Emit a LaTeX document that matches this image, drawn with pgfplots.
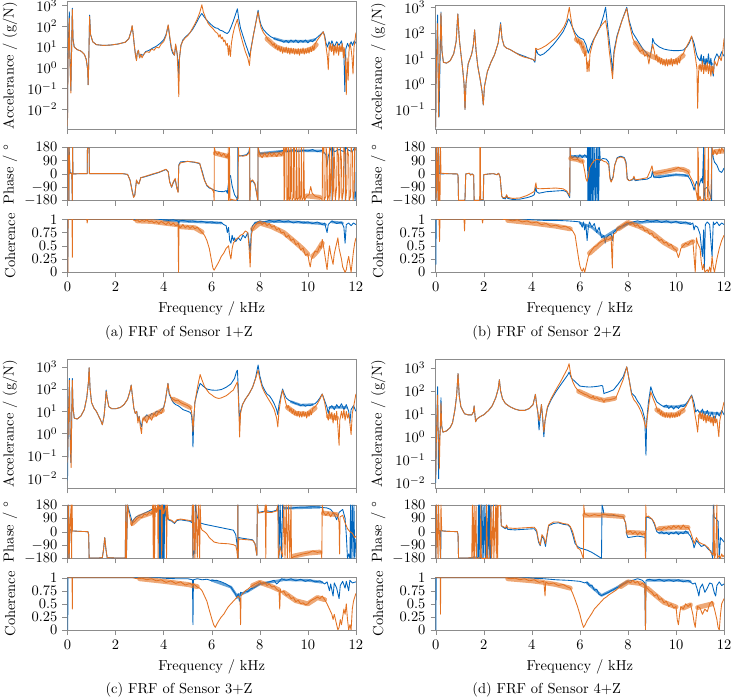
\documentclass[border=0pt]{standalone}
\usepackage{pgfplots}
\pgfplotsset{compat=1.18}
\definecolor{tumblue}{RGB}{0,101,189}
\definecolor{tumorange}{RGB}{227,114,34}

\pgfplotsset{
  frf/.style={scale only axis, width=199pt, xmin=0, xmax=12,
    xtick={0,2,4,6,8,10,12},
    axis line style={black!45}, tick style={black!45},
    tick align=outside, xtick pos=bottom, ytick pos=left,
    major tick length=3.5pt,
    ylabel style={at={(axis description cs:-0.199,0.5)}, anchor=center},
    clip mode=individual},
  hideX/.style={xticklabels={}},
  acc/.style={frf, hideX, ytick={1e-2,1e-1,1,10,100,1000},
    ylabel={Accelerance / (g/N)}},
  pha/.style={frf, hideX, height=36.8pt, ymin=-180, ymax=180,
    ytick={-180,-90,0,90,180}, ylabel={Phase / $^\circ$}},
  coh/.style={frf, ymin=0, ymax=1, ytick={0,0.25,0.5,0.75,1},
    yticklabels={0,0.25,0.5,0.75,1}, ylabel={Coherence},
    xlabel={Frequency / kHz},
    xlabel style={at={(axis description cs:0.5,0)}, anchor=center, yshift=-25.3pt}},
  sb/.style={tumblue, line width=0.6pt, line join=round},
  so/.style={tumorange, line width=0.6pt, line join=round},
  % spread of the noisy stretches of each spectrum
  nb/.style={tumblue, line width=1.8pt, opacity=0.6, line join=round, line cap=round, unbounded coords=jump},
  no/.style={tumorange, line width=3.4pt, opacity=0.62, line join=round, line cap=round, unbounded coords=jump},
}

\begin{document}
\begin{tikzpicture}
\useasboundingbox (0,0) rectangle (504.4pt,-481.6pt);

%% ---------------- (a) Sensor 1+Z ----------------
\begin{axis}[ymode=log, acc, yminorticks=false, at={(46.58pt,-1.17pt)}, anchor=north west, height=87.84pt, ymin=1.1e-3, ymax=1550]
\addplot[nb] coordinates {(8.6,26)(9.0,19)(9.5,19)(10.0,19)(10.3,23)};
\addplot[sb] coordinates {(0,0.003)(0.02,2)(0.05,60)(0.075,500)(0.09,10)(0.12,0.5)(0.14,0.08)(0.16,1.5)(0.2,750)(0.23,25)(0.28,10)(0.4,7.5)(0.55,6.5)(0.7,4.5)(0.78,2.5)(0.84,0.8)(0.86,0.15)(0.88,1.2)(0.92,350)(0.96,40)(1.05,18)(1.2,13)(1.5,12)(1.8,12.5)(2.1,14)(2.4,17)(2.55,25)(2.65,60)(2.69,100)(2.73,45)(2.78,12)(2.83,4)(2.87,2.5)(2.9,5)(2.95,7)(3.0,3)(3.05,4.5)(3.15,4)(3.25,6)(3.4,7)(3.55,9)(3.7,11)(3.85,15)(4.0,22)(4.1,40)(4.19,110)(4.25,30)(4.32,8)(4.38,5)(4.45,4)(4.5,12)(4.56,5)(4.6,2)(4.63,0.45)(4.66,3)(4.72,12)(4.8,22)(4.9,30)(5.0,38)(5.1,50)(5.2,70)(5.3,110)(5.4,180)(5.5,300)(5.59,420)(5.65,330)(5.75,230)(5.85,170)(5.95,130)(6.06,100)(6.15,85)(6.25,80)(6.35,65)(6.45,60)(6.55,50)(6.65,45)(6.72,55)(6.8,90)(6.9,180)(7.0,400)(7.07,700)(7.12,250)(7.2,80)(7.3,35)(7.4,15)(7.5,7)(7.58,3.5)(7.63,8)(7.72,30)(7.82,120)(7.93,600)(7.98,250)(8.05,120)(8.15,70)(8.3,45)(8.45,32)(8.6,26)(8.75,22)(8.9,20)(9.0,17)(9.1,21)(9.2,16)(9.3,22)(9.4,17)(9.5,22)(9.6,16)(9.7,21)(9.8,17)(9.9,22)(10.0,16)(10.1,21)(10.2,18)(10.3,24)(10.4,30)(10.5,38)(10.64,55)(10.7,35)(10.76,15)(10.82,10)(10.88,18)(10.95,12)(11.0,20)(11.1,10)(11.2,18)(11.3,12)(11.4,20)(11.45,9)(11.5,5)(11.54,0.07)(11.58,8)(11.65,15)(11.72,10)(11.8,18)(11.86,12)(11.93,20)(12,15)};
\addplot[no] coordinates {(8.3,25)(8.5,15)(8.7,10)(9.0,7.5)(9.3,6.5)(9.6,6.2)(9.9,6.5)(10.2,8.5)(10.35,13)(10.6,nan)(10.95,9)(11.2,8)(11.45,8)};
\addplot[so] coordinates {(0,0.0015)(0.02,2)(0.05,30)(0.075,250)(0.09,8)(0.12,0.4)(0.14,0.06)(0.16,1.5)(0.2,650)(0.23,22)(0.28,10)(0.4,7.5)(0.55,6.5)(0.7,4.5)(0.78,2.5)(0.84,0.8)(0.86,0.15)(0.88,1.2)(0.92,300)(0.96,40)(1.05,18)(1.2,13)(1.5,12)(1.8,12.5)(2.1,14)(2.4,17)(2.55,25)(2.65,60)(2.69,110)(2.73,45)(2.78,12)(2.83,4)(2.87,2.2)(2.9,5)(2.95,7)(3.0,3)(3.05,4.5)(3.1,3)(3.2,5)(3.3,6)(3.4,5.5)(3.5,8)(3.6,7)(3.7,10)(3.8,9)(3.9,14)(4.0,18)(4.1,35)(4.19,120)(4.25,35)(4.32,10)(4.38,6)(4.45,4)(4.5,14)(4.56,5)(4.6,0.5)(4.63,0.04)(4.66,3)(4.72,12)(4.8,20)(4.9,28)(5.0,35)(5.1,50)(5.2,80)(5.3,130)(5.4,230)(5.5,450)(5.59,1100)(5.65,500)(5.75,250)(5.85,140)(5.95,100)(6.06,75)(6.15,55)(6.25,45)(6.3,30)(6.35,40)(6.4,25)(6.45,30)(6.5,18)(6.55,22)(6.6,12)(6.65,15)(6.7,4)(6.73,12)(6.78,3.5)(6.82,15)(6.88,40)(6.95,90)(7.07,220)(7.12,100)(7.2,40)(7.3,15)(7.4,6)(7.5,3)(7.57,1.3)(7.62,6)(7.72,30)(7.82,120)(7.93,500)(7.98,200)(8.05,90)(8.15,50)(8.25,35)(8.35,22)(8.45,18)(8.55,12)(8.6,15)(8.65,9)(8.7,12)(8.75,7)(8.8,11)(8.85,6)(8.9,10)(8.95,5)(9.0,9)(9.05,5.5)(9.1,10)(9.15,5)(9.2,9)(9.25,4.5)(9.3,9)(9.35,5)(9.4,8.5)(9.45,4.5)(9.5,8)(9.55,4.5)(9.6,8.5)(9.65,4)(9.7,8)(9.75,5)(9.8,9)(9.85,4.5)(9.9,8)(9.95,5)(10.0,9)(10.05,5)(10.1,10)(10.15,6)(10.2,11)(10.25,7)(10.3,14)(10.4,22)(10.5,32)(10.64,55)(10.7,30)(10.76,10)(10.82,3)(10.85,0.8)(10.88,6)(10.93,15)(10.98,6)(11.03,14)(11.08,4)(11.13,12)(11.18,5)(11.23,15)(11.28,4)(11.33,12)(11.38,6)(11.43,15)(11.48,3)(11.52,8)(11.56,2)(11.6,0.05)(11.63,3)(11.66,1)(11.68,0.25)(11.71,6)(11.75,15)(11.8,8)(11.84,3)(11.88,0.5)(11.92,10)(11.96,20)(12,50)};
\end{axis}

\begin{axis}[pha, at={(46.58pt,-101.64pt)}, anchor=north west]
\addplot[nb] coordinates {(8.0,138)(9.0,155)(10.0,157)(10.6,155)};
\addplot[sb] coordinates {(0,-180)(0.005,180)(0.03,20)(0.06,-180)(0.07,180)(0.1,10)(0.18,5)(0.2,-180)(0.21,180)(0.23,0)(0.5,2)(0.82,2)(0.83,175)(0.9,175)(0.91,2)(1.5,2)(2.3,2)(2.5,-3)(2.6,-40)(2.7,-120)(2.75,-155)(2.8,-140)(2.87,-45)(2.92,-60)(2.97,-65)(3.05,-25)(3.2,-20)(3.5,-5)(3.8,10)(4.1,30)(4.19,15)(4.25,-50)(4.33,-90)(4.4,-60)(4.48,-35)(4.55,-95)(4.6,-120)(4.63,60)(4.7,82)(5.0,85)(5.3,78)(5.5,70)(5.6,20)(5.7,-40)(5.8,-80)(5.9,-95)(6.0,-100)(6.1,-110)(6.3,-118)(6.5,-120)(6.6,-112)(6.65,-130)(6.72,-30)(6.78,-10)(6.85,-80)(6.95,-140)(7.05,-165)(7.08,-180)(7.09,180)(7.12,120)(7.3,125)(7.45,130)(7.55,150)(7.58,180)(7.59,-180)(7.6,-60)(7.7,-45)(7.8,-70)(7.88,-140)(7.92,-180)(7.93,180)(8.0,135)(8.2,140)(8.5,145)(8.8,150)(9.0,160)(9.2,150)(9.4,165)(9.6,150)(9.8,160)(10.0,155)(10.2,165)(10.4,150)(10.6,160)(10.75,130)(10.8,60)(10.85,120)(10.95,170)(11.0,180)(11.01,-180)(11.02,180)(11.1,150)(11.3,165)(11.5,150)(11.55,180)(11.56,-180)(11.57,180)(11.7,160)(11.85,150)(11.95,180)(11.96,-180)(12,-120)};
\addplot[no] coordinates {(6.15,140)(6.65,120)(6.8,nan)(8.0,128)(8.5,130)(8.95,135)(9.0,nan)(9.95,-148)(10.5,-158)};
\addplot[so] coordinates {(0,-180)(0.005,180)(0.03,15)(0.06,-180)(0.065,180)(0.1,5)(0.18,3)(0.2,-180)(0.21,180)(0.23,0)(0.5,2)(0.82,2)(0.83,175)(0.9,175)(0.91,2)(1.5,2)(2.3,2)(2.5,-3)(2.6,-40)(2.7,-125)(2.75,-158)(2.8,-145)(2.87,-40)(2.92,-60)(2.97,-68)(3.05,-25)(3.2,-18)(3.5,-2)(3.8,12)(4.1,32)(4.19,15)(4.25,-55)(4.33,-88)(4.4,-55)(4.48,-30)(4.55,-95)(4.6,-125)(4.63,55)(4.7,75)(5.0,85)(5.3,80)(5.5,72)(5.6,10)(5.7,-45)(5.8,-75)(5.9,-90)(6.0,-100)(6.08,-120)(6.1,-180)(6.11,180)(6.15,150)(6.25,130)(6.3,150)(6.4,120)(6.5,140)(6.6,110)(6.65,130)(6.68,100)(6.69,180)(6.7,-180)(6.72,-150)(6.74,180)(6.76,-180)(6.8,-170)(6.9,-175)(7.0,-178)(7.1,-165)(7.11,180)(7.13,125)(7.3,120)(7.45,125)(7.55,140)(7.58,180)(7.59,-180)(7.62,-50)(7.7,-40)(7.8,-65)(7.87,-130)(7.92,-180)(7.93,180)(8.0,130)(8.1,110)(8.2,140)(8.3,115)(8.4,145)(8.5,120)(8.6,140)(8.7,118)(8.8,142)(8.9,125)(8.98,150)(9.0,180)(9.01,-180)(9.04,-160)(9.05,180)(9.1,150)(9.12,180)(9.13,-180)(9.18,-170)(9.19,180)(9.22,160)(9.23,-180)(9.28,-165)(9.29,180)(9.33,150)(9.34,-180)(9.4,-160)(9.41,180)(9.45,170)(9.46,-180)(9.52,-165)(9.53,180)(9.56,-180)(9.62,-160)(9.63,180)(9.67,-180)(9.72,-150)(9.73,180)(9.76,-180)(9.82,-160)(9.83,180)(9.86,-180)(9.95,-150)(10.05,-140)(10.12,-85)(10.18,-130)(10.3,-150)(10.4,-155)(10.5,-160)(10.58,-170)(10.6,-180)(10.61,180)(10.65,140)(10.67,180)(10.68,-180)(10.75,-150)(10.76,180)(10.8,120)(10.82,-180)(10.88,-140)(10.9,180)(10.91,-180)(10.95,-100)(10.98,180)(11.0,100)(11.02,-180)(11.06,-120)(11.08,180)(11.12,60)(11.14,-180)(11.2,-90)(11.22,180)(11.27,130)(11.29,-180)(11.33,-140)(11.35,180)(11.4,90)(11.42,-180)(11.48,-120)(11.5,180)(11.55,150)(11.57,-180)(11.62,-100)(11.64,180)(11.7,120)(11.72,-180)(11.78,-150)(11.8,180)(11.86,140)(11.88,-180)(11.93,-120)(11.95,180)(12,160)};
\end{axis}

\begin{axis}[coh, at={(46.58pt,-151.32pt)}, anchor=north west, height=36.57pt]
\addplot[nb] coordinates {(4.0,0.98)(5.0,0.96)(6.0,0.94)(6.4,0.93)(6.5,nan)(7.8,0.93)(8.5,0.96)(9.5,0.95)(10.5,0.92)(10.75,0.9)(10.9,nan)(11.0,0.95)(11.45,0.93)};
\addplot[sb] coordinates {(0,1)(0.01,0)(0.02,1)(0.5,1)(1,1)(2,1)(3,1)(3.8,1)(4.0,0.99)(4.2,0.98)(4.4,0.99)(4.6,0.97)(4.62,0.85)(4.65,0.97)(4.8,0.98)(5.0,0.96)(5.2,0.97)(5.4,0.95)(5.6,0.96)(5.8,0.94)(6.0,0.95)(6.2,0.93)(6.4,0.94)(6.5,0.9)(6.6,0.88)(6.65,0.75)(6.7,0.85)(6.75,0.6)(6.8,0.55)(6.85,0.7)(6.9,0.6)(6.95,0.65)(7.0,0.58)(7.1,0.65)(7.2,0.6)(7.3,0.7)(7.4,0.65)(7.5,0.75)(7.55,0.6)(7.6,0.35)(7.65,0.8)(7.7,0.88)(7.8,0.93)(8.0,0.97)(8.2,0.95)(8.4,0.98)(8.6,0.95)(8.8,0.98)(9.0,0.95)(9.2,0.97)(9.4,0.93)(9.6,0.96)(9.8,0.93)(10.0,0.95)(10.2,0.92)(10.4,0.95)(10.6,0.9)(10.7,0.93)(10.8,0.75)(10.85,0.9)(11.0,0.97)(11.2,0.92)(11.4,0.95)(11.5,0.85)(11.55,0.55)(11.6,0.9)(11.7,0.93)(11.8,0.88)(11.9,0.93)(12,0.9)};
\addplot[no] coordinates {(2.9,0.97)(3.5,0.96)(4.0,0.93)(4.55,0.9)(4.62,nan)(4.7,0.86)(5.3,0.84)(5.6,0.76)(5.8,nan)(7.7,0.82)(8.0,0.93)(8.5,0.86)(9.0,0.75)(9.5,0.56)(9.8,0.44)(10.0,0.34)(10.1,nan)(10.2,0.3)(10.4,0.4)(10.6,0.55)};
\addplot[so] coordinates {(0,1)(0.015,0)(0.025,1)(0.19,1)(0.2,0.28)(0.21,1)(0.8,1)(0.82,0.93)(0.84,1)(2.7,1)(2.8,0.97)(2.9,0.99)(3.0,0.95)(3.1,0.98)(3.2,0.96)(3.3,0.99)(3.4,0.95)(3.5,0.97)(3.6,0.93)(3.7,0.96)(3.8,0.92)(3.9,0.96)(4.0,0.93)(4.1,0.9)(4.2,0.95)(4.3,0.89)(4.4,0.93)(4.5,0.88)(4.6,0.9)(4.62,0)(4.64,0.88)(4.7,0.84)(4.8,0.9)(4.9,0.84)(5.0,0.88)(5.1,0.83)(5.2,0.87)(5.3,0.82)(5.4,0.85)(5.5,0.8)(5.6,0.75)(5.7,0.7)(5.8,0.6)(5.9,0.45)(6.0,0.2)(6.05,0.08)(6.1,0.04)(6.15,0.08)(6.2,0.12)(6.3,0.2)(6.4,0.3)(6.5,0.36)(6.6,0.45)(6.7,0.5)(6.75,0.35)(6.8,0.25)(6.85,0.45)(6.9,0.55)(7.0,0.62)(7.1,0.65)(7.2,0.7)(7.3,0.72)(7.4,0.78)(7.5,0.75)(7.55,0.5)(7.6,0.1)(7.65,0.7)(7.7,0.8)(7.8,0.88)(7.9,0.93)(8.0,0.95)(8.1,0.9)(8.2,0.94)(8.3,0.88)(8.4,0.92)(8.5,0.85)(8.6,0.88)(8.7,0.8)(8.8,0.83)(8.9,0.74)(9.0,0.76)(9.1,0.66)(9.2,0.7)(9.3,0.6)(9.4,0.63)(9.5,0.52)(9.6,0.55)(9.7,0.42)(9.8,0.46)(9.9,0.32)(10.0,0.35)(10.05,0.2)(10.1,0.1)(10.15,0.25)(10.2,0.3)(10.3,0.4)(10.4,0.38)(10.5,0.5)(10.55,0.45)(10.6,0.62)(10.65,0.5)(10.7,0.35)(10.75,0.2)(10.8,0.05)(10.85,0.3)(10.9,0.5)(10.95,0.35)(11.0,0.25)(11.05,0.15)(11.1,0.35)(11.2,0.55)(11.25,0.65)(11.3,0.45)(11.4,0.25)(11.45,0.1)(11.5,0.05)(11.55,0.0)(11.6,0.05)(11.65,0.2)(11.7,0.3)(11.75,0.15)(11.8,0.0)(11.85,0.2)(11.9,0.4)(11.95,0.55)(12,0.65)};
\end{axis}
\node at (123.5pt,-230pt) {(a) FRF of Sensor 1+Z};

%% ---------------- (b) Sensor 2+Z ----------------
\begin{axis}[ymode=log, acc, yminorticks=false, at={(300.63pt,-3.45pt)}, anchor=north west, height=85.56pt, ymin=0.017, ymax=1230]
\addplot[nb] coordinates {(11.0,9)(11.25,8)(11.5,6)};
\addplot[sb] coordinates {(0,0.02)(0.02,3)(0.05,50)(0.08,500)(0.1,5)(0.12,0.3)(0.14,0.05)(0.17,2)(0.22,650)(0.26,20)(0.32,7)(0.45,6.5)(0.6,8)(0.75,15)(0.85,45)(0.92,550)(0.98,60)(1.05,15)(1.12,4)(1.18,1)(1.22,0.1)(1.26,1)(1.35,6)(1.5,15)(1.57,35)(1.62,130)(1.68,20)(1.75,5)(1.85,1.5)(1.93,0.5)(1.98,0.15)(2.03,0.8)(2.15,3)(2.3,7)(2.45,14)(2.6,40)(2.7,250)(2.76,60)(2.85,30)(2.95,25)(3.1,22)(3.3,17)(3.5,14)(3.7,12)(3.9,10)(4.05,9)(4.13,7)(4.18,22)(4.25,15)(4.35,13)(4.5,15)(4.7,22)(4.9,35)(5.1,60)(5.3,110)(5.45,220)(5.52,350)(5.58,300)(5.65,200)(5.8,100)(5.93,70)(6.05,60)(6.15,55)(6.25,35)(6.35,16)(6.45,30)(6.55,50)(6.7,90)(6.85,180)(6.98,450)(7.07,1000)(7.15,200)(7.22,50)(7.3,12)(7.36,3)(7.42,20)(7.55,80)(7.75,300)(7.95,1000)(8.05,300)(8.2,100)(8.4,50)(8.6,25)(8.8,15)(8.92,11)(9.0,30)(9.03,60)(9.1,40)(9.3,28)(9.5,23)(9.7,21)(9.9,20)(10.1,20)(10.3,21)(10.45,28)(10.55,40)(10.65,70)(10.75,40)(10.85,15)(10.9,11)(11.0,8)(11.05,14)(11.1,5)(11.15,12)(11.2,4)(11.25,10)(11.3,6)(11.35,15)(11.4,5)(11.45,10)(11.5,4)(11.55,2)(11.6,9)(11.7,15)(11.8,10)(11.9,18)(12,12)};
\addplot[no] coordinates {(5.85,55)(6.05,40)(6.2,18)(6.3,nan)(8.3,40)(8.6,18)(9.0,12)(9.2,10)(9.5,7)(10.0,7.5)(10.3,13)(10.6,nan)(11.0,4.5)(11.5,4)};
\addplot[so] coordinates {(0,0.02)(0.02,3)(0.05,20)(0.08,230)(0.1,4)(0.12,0.05)(0.15,1.5)(0.22,600)(0.26,20)(0.32,7)(0.45,6.5)(0.6,8)(0.75,15)(0.85,45)(0.92,550)(0.98,60)(1.05,15)(1.12,4)(1.18,1)(1.22,0.1)(1.26,1)(1.35,6)(1.5,15)(1.57,35)(1.62,130)(1.68,20)(1.75,5)(1.85,1.5)(1.93,0.5)(1.98,0.15)(2.03,0.8)(2.15,3)(2.3,7)(2.45,14)(2.6,40)(2.7,220)(2.76,60)(2.85,30)(2.95,25)(3.1,22)(3.3,17)(3.5,13)(3.7,11)(3.9,10)(4.05,9)(4.13,8)(4.16,25)(4.25,22)(4.4,25)(4.6,32)(4.8,45)(5.0,65)(5.2,110)(5.35,180)(5.45,300)(5.56,1000)(5.62,400)(5.7,150)(5.8,80)(5.9,40)(5.95,55)(6.0,35)(6.05,45)(6.1,25)(6.15,30)(6.2,12)(6.25,20)(6.3,3)(6.34,8)(6.38,3)(6.42,15)(6.5,30)(6.6,60)(6.75,120)(6.9,200)(7.07,300)(7.15,100)(7.22,20)(7.3,5)(7.36,1.6)(7.42,15)(7.55,70)(7.75,300)(7.95,900)(8.05,250)(8.2,60)(8.3,40)(8.4,30)(8.5,18)(8.6,22)(8.7,12)(8.8,15)(8.87,6)(8.92,12)(9.0,25)(9.03,35)(9.1,18)(9.15,9)(9.2,14)(9.25,7)(9.3,11)(9.35,6)(9.4,10)(9.45,5.5)(9.5,9)(9.55,5)(9.6,9.5)(9.65,5)(9.7,9)(9.75,5.5)(9.8,10)(9.85,5)(9.9,9)(9.95,6)(10.0,10)(10.05,5.5)(10.1,10)(10.15,6.5)(10.2,12)(10.3,15)(10.4,25)(10.55,45)(10.65,75)(10.72,35)(10.8,12)(10.87,4)(10.9,0.11)(10.94,3)(11.0,6)(11.05,3)(11.1,8)(11.15,2.5)(11.2,6)(11.25,3)(11.3,7)(11.35,2.5)(11.4,6)(11.45,2)(11.5,5)(11.55,2.5)(11.6,8)(11.7,5)(11.8,12)(11.88,8)(11.95,20)(12,60)};
\end{axis}

\begin{axis}[pha, at={(300.63pt,-101.64pt)}, anchor=north west]
\addplot[nb] coordinates {(5.62,118)(6.0,120)(6.3,118)(6.4,nan)(9.1,-20)(10.0,-5)(10.5,-12)};
\addplot[sb] coordinates {(0,180)(0.01,-180)(0.03,-100)(0.05,180)(0.08,30)(0.1,-180)(0.12,180)(0.15,5)(0.2,0)(0.5,2)(0.9,0)(0.93,-10)(0.95,-178)(1.2,-178)(1.22,-170)(1.25,0)(1.4,5)(1.45,-5)(1.52,0)(1.58,-10)(1.6,-178)(1.8,-178)(1.85,-175)(1.98,-175)(2.0,-5)(2.2,0)(2.4,2)(2.55,-5)(2.62,5)(2.68,-20)(2.75,-150)(2.8,-165)(2.9,-168)(2.95,-150)(3.0,-165)(3.2,-172)(3.5,-170)(3.8,-160)(4.0,-150)(4.1,-140)(4.17,-90)(4.2,-120)(4.3,-130)(4.6,-120)(5.0,-115)(5.3,-112)(5.45,-120)(5.55,-150)(5.58,-160)(5.59,180)(5.62,120)(5.7,110)(5.8,125)(5.9,105)(6.0,130)(6.1,110)(6.2,130)(6.3,110)(6.32,180)(6.33,-180)(6.36,180)(6.38,-180)(6.4,180)(6.42,-180)(6.44,180)(6.46,-180)(6.5,180)(6.52,-180)(6.55,180)(6.58,-180)(6.62,180)(6.65,-180)(6.7,180)(6.72,-180)(6.76,180)(6.78,-180)(6.82,180)(6.85,90)(6.95,105)(7.1,100)(7.2,80)(7.25,-20)(7.3,-50)(7.38,-20)(7.45,60)(7.55,110)(7.7,120)(7.85,110)(7.92,80)(7.97,-30)(8.05,-45)(8.2,-40)(8.25,-25)(8.3,-45)(8.5,-40)(8.8,-35)(8.97,-20)(9.02,20)(9.07,-20)(9.3,-25)(9.6,-15)(10.0,-5)(10.3,-5)(10.5,-15)(10.6,-40)(10.7,-80)(10.75,-110)(10.85,-50)(10.95,-85)(11.05,-30)(11.1,-60)(11.15,180)(11.16,-180)(11.2,-100)(11.3,-90)(11.4,-130)(11.48,-180)(11.49,180)(11.55,110)(11.6,80)(11.7,60)(11.8,20)(11.9,10)(12,40)};
\addplot[no] coordinates {(5.62,105)(5.9,98)(6.1,85)(6.2,nan)(9.15,5)(9.6,18)(10.0,33)(10.3,30)(10.5,15)(10.6,nan)(11.6,150)(12,155)};
\addplot[so] coordinates {(0,180)(0.01,-180)(0.03,-120)(0.05,180)(0.08,20)(0.1,-180)(0.12,180)(0.14,-180)(0.18,-180)(0.2,180)(0.22,5)(0.5,2)(0.9,0)(0.93,-10)(0.95,-178)(1.2,-178)(1.22,-170)(1.25,0)(1.4,5)(1.45,-8)(1.52,0)(1.58,-10)(1.6,-178)(1.8,-178)(1.83,-175)(1.84,180)(1.86,180)(1.87,-175)(1.98,-172)(2.0,-5)(2.2,0)(2.4,2)(2.55,-5)(2.62,5)(2.68,-20)(2.75,-150)(2.8,-160)(2.9,-160)(2.95,-140)(3.0,-158)(3.2,-165)(3.5,-162)(3.8,-145)(4.0,-128)(4.1,-118)(4.17,-60)(4.2,-95)(4.3,-100)(4.6,-98)(5.0,-95)(5.3,-100)(5.45,-115)(5.55,-140)(5.58,-150)(5.59,180)(5.62,110)(5.7,100)(5.8,95)(5.9,100)(6.0,85)(6.1,90)(6.15,60)(6.2,20)(6.25,-30)(6.3,-50)(6.35,-20)(6.4,40)(6.5,70)(6.6,90)(6.7,100)(6.8,95)(6.9,95)(7.0,85)(7.1,80)(7.2,60)(7.25,-30)(7.3,-55)(7.38,-25)(7.45,60)(7.55,105)(7.7,115)(7.85,105)(7.92,70)(7.97,-35)(8.05,-45)(8.2,-35)(8.25,-15)(8.3,-40)(8.5,-35)(8.8,-25)(8.95,30)(9.0,55)(9.05,10)(9.2,5)(9.4,10)(9.6,20)(9.8,25)(10.0,35)(10.1,45)(10.2,35)(10.4,25)(10.5,15)(10.6,-20)(10.7,-50)(10.8,-90)(10.85,-130)(10.9,-180)(10.91,180)(10.93,100)(10.95,-180)(11.0,-150)(11.05,-180)(11.15,-170)(11.2,180)(11.22,-180)(11.3,-170)(11.35,180)(11.37,-180)(11.45,-160)(11.5,180)(11.55,130)(11.6,160)(11.7,130)(11.8,170)(11.85,140)(11.9,175)(12,150)};
\end{axis}

\begin{axis}[coh, at={(300.63pt,-151.32pt)}, anchor=north west, height=36.57pt]
\addplot[nb] coordinates {(6.0,0.93)(6.5,0.85)(7.0,0.66)(7.5,0.8)(8.0,0.92)(9.0,0.96)(10.0,0.95)(10.6,0.92)};
\addplot[sb] coordinates {(0,1)(0.01,0.15)(0.02,1)(1,1)(2,1)(3,1)(3.8,1)(4.0,0.99)(4.5,0.98)(5.0,0.98)(5.5,0.97)(5.8,0.96)(6.0,0.95)(6.1,0.85)(6.15,0.95)(6.2,0.8)(6.25,0.9)(6.3,0.6)(6.35,0.85)(6.4,0.95)(6.5,0.85)(6.6,0.92)(6.7,0.75)(6.8,0.85)(6.9,0.65)(7.0,0.7)(7.05,0.55)(7.1,0.65)(7.2,0.7)(7.3,0.72)(7.35,0.6)(7.4,0.75)(7.5,0.8)(7.6,0.85)(7.8,0.88)(8.0,0.92)(8.2,0.95)(8.4,0.97)(8.6,0.95)(8.8,0.98)(9.0,0.95)(9.2,0.98)(9.4,0.94)(9.6,0.97)(9.8,0.93)(10.0,0.96)(10.2,0.92)(10.4,0.95)(10.6,0.9)(10.7,0.93)(10.75,0.8)(10.8,0.88)(10.9,0.85)(11.0,0.72)(11.05,0.5)(11.1,0.3)(11.15,0.8)(11.18,0.05)(11.22,0.9)(11.3,0.95)(11.4,0.9)(11.45,0.6)(11.5,0.3)(11.55,0.95)(11.6,0.9)(11.7,0.95)(11.8,0.88)(11.9,0.93)(12,0.9)};
\addplot[no] coordinates {(3.0,0.98)(4.0,0.93)(5.0,0.87)(5.6,0.82)(5.8,nan)(6.4,0.36)(7.0,0.6)(7.3,0.65)(7.4,nan)(7.6,0.82)(8.0,0.94)(8.5,0.86)(9.0,0.74)(9.5,0.56)(10.0,0.43)(10.1,nan)(10.3,0.5)(10.7,0.58)};
\addplot[so] coordinates {(0,1)(0.14,1)(0.16,0.58)(0.18,1)(1.18,1)(1.2,0.78)(1.22,1)(1.93,1)(1.95,0.93)(1.97,1)(2.8,1)(3.0,0.99)(3.2,0.97)(3.4,0.99)(3.6,0.95)(3.8,0.97)(4.0,0.93)(4.2,0.95)(4.4,0.9)(4.6,0.92)(4.8,0.87)(5.0,0.89)(5.2,0.85)(5.4,0.87)(5.6,0.82)(5.7,0.78)(5.8,0.7)(5.85,0.55)(5.9,0.4)(5.95,0.25)(6.0,0.12)(6.05,0.05)(6.1,0.02)(6.15,0.08)(6.2,0.0)(6.25,0.1)(6.3,0.2)(6.35,0.3)(6.4,0.35)(6.5,0.42)(6.6,0.48)(6.7,0.5)(6.8,0.55)(6.9,0.58)(7.0,0.6)(7.1,0.63)(7.2,0.62)(7.3,0.66)(7.33,0.3)(7.35,0.08)(7.37,0.5)(7.4,0.72)(7.5,0.75)(7.6,0.82)(7.7,0.85)(7.8,0.9)(7.9,0.93)(8.0,0.95)(8.1,0.9)(8.2,0.93)(8.3,0.87)(8.4,0.9)(8.5,0.84)(8.6,0.86)(8.7,0.78)(8.8,0.8)(8.9,0.72)(9.0,0.74)(9.1,0.65)(9.2,0.67)(9.3,0.6)(9.4,0.62)(9.5,0.55)(9.6,0.57)(9.7,0.5)(9.8,0.53)(9.9,0.45)(10.0,0.42)(10.05,0.35)(10.1,0.28)(10.15,0.35)(10.2,0.45)(10.3,0.5)(10.4,0.55)(10.5,0.52)(10.6,0.58)(10.7,0.6)(10.75,0.3)(10.8,0.0)(10.85,0.65)(10.9,0.55)(11.0,0.45)(11.05,0.2)(11.1,0.05)(11.15,0.15)(11.2,0.0)(11.3,0.05)(11.35,0.0)(11.4,0.1)(11.45,0.0)(11.5,0.3)(11.55,0.1)(11.6,0.0)(11.7,0.25)(11.8,0.45)(11.9,0.6)(12,0.7)};
\end{axis}
\node at (377.2pt,-230pt) {(b) FRF of Sensor 2+Z};

%% ---------------- (c) Sensor 3+Z ----------------
\begin{axis}[ymode=log, acc, yminorticks=false, at={(46.58pt,-247.71pt)}, anchor=north west, height=89.22pt, ymin=3.5e-3, ymax=2240]
\addplot[nb] coordinates {(9.3,27)(9.7,19)(10.2,20)(10.35,nan)(10.9,15)(11.6,15)};
\addplot[sb] coordinates {(0,0.008)(0.03,2)(0.06,50)(0.08,300)(0.1,4)(0.12,0.2)(0.14,0.05)(0.17,2)(0.2,300)(0.23,15)(0.28,5)(0.4,4.5)(0.55,6)(0.7,12)(0.8,40)(0.87,200)(0.9,900)(0.94,100)(1.0,25)(1.1,14)(1.2,10)(1.3,6)(1.38,4)(1.45,2.5)(1.52,6)(1.58,30)(1.61,90)(1.65,40)(1.72,16)(1.85,13)(2.0,13)(2.2,15)(2.35,20)(2.5,35)(2.6,80)(2.65,150)(2.7,50)(2.76,14)(2.82,8)(2.88,10)(2.93,4)(2.98,6)(3.03,3)(3.08,2)(3.12,4)(3.2,5)(3.3,7)(3.4,5.5)(3.5,8)(3.6,7)(3.7,10)(3.8,9)(3.9,12)(4.0,15)(4.07,30)(4.13,80)(4.18,180)(4.23,60)(4.3,40)(4.4,25)(4.5,20)(4.6,18)(4.7,15)(4.8,12)(4.9,11)(5.0,10)(5.1,9)(5.16,7)(5.2,2)(5.22,0.25)(5.25,3)(5.3,25)(5.38,60)(5.45,110)(5.52,180)(5.6,150)(5.7,120)(5.8,100)(5.9,95)(6.0,90)(6.2,88)(6.4,95)(6.6,120)(6.8,170)(6.95,300)(7.03,600)(7.07,700)(7.1,150)(7.14,10)(7.17,3)(7.2,10)(7.28,20)(7.4,35)(7.55,60)(7.7,120)(7.82,300)(7.93,1200)(8.0,400)(8.1,150)(8.2,90)(8.3,60)(8.4,50)(8.5,35)(8.6,22)(8.7,12)(8.75,7)(8.8,20)(8.88,50)(8.95,100)(9.02,60)(9.1,40)(9.2,32)(9.3,28)(9.4,25)(9.5,22)(9.6,21)(9.7,18)(9.8,20)(9.9,17)(10.0,19)(10.1,18)(10.2,21)(10.3,22)(10.4,28)(10.5,40)(10.6,60)(10.7,30)(10.8,15)(10.85,8)(10.9,14)(11.0,18)(11.1,12)(11.2,20)(11.3,14)(11.4,22)(11.5,12)(11.6,20)(11.7,10)(11.75,3)(11.8,12)(11.9,18)(12,10)};
\addplot[no] coordinates {(3.2,4.5)(3.6,7)(3.95,11)(4.05,nan)(4.4,35)(4.8,22)(5.1,15)(5.2,nan)(9.15,15)(9.5,8)(10.0,7.5)(10.3,14)(10.6,nan)(10.85,6)(11.2,5)};
\addplot[so] coordinates {(0,0.05)(0.03,2)(0.06,40)(0.08,250)(0.1,4)(0.12,0.3)(0.15,0.03)(0.17,2)(0.2,250)(0.23,15)(0.28,5)(0.4,4.5)(0.55,6)(0.7,12)(0.8,40)(0.87,200)(0.9,900)(0.94,100)(1.0,25)(1.1,14)(1.2,10)(1.3,6)(1.38,4)(1.45,2.5)(1.52,6)(1.58,30)(1.61,80)(1.65,40)(1.72,16)(1.85,13)(2.0,13)(2.2,15)(2.35,20)(2.5,35)(2.6,80)(2.65,150)(2.7,50)(2.76,14)(2.82,8)(2.88,10)(2.93,3)(2.98,6)(3.03,2)(3.08,1)(3.12,4)(3.2,5)(3.3,3)(3.4,6)(3.5,4)(3.6,8)(3.7,6)(3.8,10)(3.9,8)(4.0,14)(4.07,30)(4.13,80)(4.18,180)(4.23,70)(4.3,45)(4.4,35)(4.5,30)(4.6,32)(4.7,25)(4.8,22)(4.9,20)(5.0,18)(5.1,15)(5.16,10)(5.2,4)(5.22,1.2)(5.25,4)(5.3,25)(5.38,80)(5.45,200)(5.52,450)(5.6,250)(5.7,130)(5.8,90)(5.9,65)(6.0,55)(6.1,45)(6.2,40)(6.3,38)(6.4,40)(6.5,45)(6.6,50)(6.7,60)(6.8,75)(6.9,90)(7.0,150)(7.07,210)(7.1,80)(7.14,5)(7.16,0.7)(7.2,8)(7.28,20)(7.4,35)(7.55,60)(7.7,120)(7.82,280)(7.93,700)(8.0,300)(8.1,120)(8.2,70)(8.3,45)(8.4,30)(8.5,20)(8.6,12)(8.7,5)(8.75,2)(8.8,10)(8.88,40)(8.95,90)(9.02,45)(9.1,20)(9.15,14)(9.2,18)(9.25,10)(9.3,14)(9.35,8)(9.4,12)(9.45,7)(9.5,10)(9.55,6)(9.6,10)(9.65,5.5)(9.7,9)(9.75,5.5)(9.8,10)(9.85,6)(9.9,9)(9.95,5)(10.0,10)(10.05,6)(10.1,11)(10.15,7)(10.2,13)(10.3,16)(10.4,22)(10.5,35)(10.6,60)(10.7,25)(10.78,8)(10.85,4)(10.9,10)(10.95,5)(11.0,9)(11.05,3)(11.1,8)(11.15,4)(11.2,10)(11.25,2)(11.3,0.3)(11.33,4)(11.4,10)(11.45,5)(11.5,12)(11.55,4)(11.6,10)(11.65,5)(11.7,8)(11.75,3)(11.8,0.9)(11.85,8)(11.9,15)(11.95,30)(12,60)};
\end{axis}

\begin{axis}[pha, at={(46.58pt,-348.45pt)}, anchor=north west]
\addplot[nb] coordinates {(9.0,158)(10.5,165)};
\addplot[sb] coordinates {(0,180)(0.01,-180)(0.03,20)(0.05,180)(0.07,-180)(0.1,15)(0.2,5)(0.5,2)(0.85,0)(0.88,-20)(0.9,-178)(1.3,-178)(1.45,-175)(1.5,-120)(1.55,-40)(1.6,-120)(1.65,-175)(2.0,-178)(2.4,-178)(2.43,180)(2.45,-180)(2.5,180)(2.55,150)(2.6,120)(2.65,90)(2.7,60)(2.75,80)(2.85,100)(3.0,110)(3.2,125)(3.4,140)(3.5,150)(3.6,130)(3.7,145)(3.8,180)(3.82,-180)(3.85,180)(3.87,-180)(3.9,180)(3.92,-180)(3.95,180)(3.97,-180)(4.0,180)(4.02,-180)(4.05,180)(4.1,100)(4.2,80)(4.35,70)(4.45,55)(4.55,75)(4.7,80)(4.9,75)(5.1,70)(5.18,60)(5.2,180)(5.22,-180)(5.25,-130)(5.3,-150)(5.32,180)(5.4,100)(5.5,60)(5.7,50)(6.0,40)(6.3,30)(6.6,20)(6.9,10)(7.0,-20)(7.05,-80)(7.08,-180)(7.09,180)(7.1,-180)(7.12,-40)(7.3,-45)(7.5,-50)(7.7,-55)(7.8,-80)(7.88,-160)(7.9,180)(7.95,130)(8.1,135)(8.3,140)(8.5,135)(8.7,145)(8.78,180)(8.8,-180)(8.85,180)(8.9,-180)(8.95,180)(9.0,160)(9.3,158)(9.6,165)(9.9,165)(10.2,168)(10.5,165)(10.8,160)(10.95,150)(11.05,130)(11.15,100)(11.2,80)(11.3,130)(11.45,150)(11.55,90)(11.6,-20)(11.65,-180)(11.7,-150)(11.75,-180)(11.78,180)(11.8,-180)(11.85,180)(11.88,-180)(11.92,180)(11.95,-180)(12,-50)};
\addplot[no] coordinates {(2.7,55)(3.0,100)(3.45,125)(3.5,nan)(9.4,-165)(10.0,-145)(10.5,-138)(10.6,nan)(10.65,125)(11.2,115)};
\addplot[so] coordinates {(0,180)(0.01,-180)(0.03,20)(0.05,180)(0.07,-180)(0.1,15)(0.15,180)(0.17,-180)(0.19,180)(0.21,5)(0.5,2)(0.85,0)(0.88,-20)(0.9,-178)(1.3,-178)(1.45,-175)(1.5,-120)(1.55,-40)(1.6,-120)(1.65,-175)(2.0,-178)(2.4,-178)(2.43,180)(2.45,-180)(2.5,180)(2.55,130)(2.62,80)(2.67,40)(2.72,60)(2.8,70)(2.9,90)(3.0,100)(3.1,95)(3.2,120)(3.3,110)(3.4,130)(3.5,120)(3.55,180)(3.57,-180)(3.6,180)(3.62,-180)(3.65,180)(3.7,130)(3.75,180)(3.77,-180)(3.8,180)(3.85,150)(3.9,180)(3.92,-180)(3.95,180)(4.0,120)(4.1,180)(4.12,-180)(4.15,180)(4.2,85)(4.35,75)(4.45,60)(4.55,80)(4.7,85)(4.9,80)(5.1,75)(5.18,70)(5.2,180)(5.22,-180)(5.25,180)(5.3,-180)(5.35,180)(5.4,-180)(5.45,180)(5.5,-180)(5.52,180)(5.55,30)(5.6,10)(5.7,0)(5.8,-15)(5.9,-40)(6.0,-55)(6.1,-70)(6.3,-78)(6.5,-80)(6.7,-82)(6.9,-88)(7.0,-95)(7.05,-130)(7.08,-180)(7.09,180)(7.1,-180)(7.12,-50)(7.3,-52)(7.5,-55)(7.7,-58)(7.8,-80)(7.88,-160)(7.9,180)(7.95,125)(8.1,130)(8.2,135)(8.23,180)(8.25,-180)(8.27,180)(8.3,130)(8.5,130)(8.7,140)(8.75,180)(8.77,-180)(8.8,-150)(8.85,-100)(8.9,-140)(8.95,-170)(9.0,180)(9.05,-180)(9.1,180)(9.15,-180)(9.2,180)(9.25,-180)(9.3,180)(9.32,-180)(9.4,-170)(9.6,-160)(9.8,-150)(10.0,-145)(10.2,-130)(10.4,-140)(10.55,-135)(10.58,-180)(10.6,180)(10.65,130)(10.75,110)(10.85,130)(10.95,100)(11.05,130)(11.15,120)(11.25,110)(11.3,60)(11.32,-150)(11.34,100)(11.45,110)(11.55,60)(11.65,20)(11.75,0)(11.85,-10)(11.95,-40)(12,-30)};
\end{axis}

\begin{axis}[coh, at={(46.58pt,-398.61pt)}, anchor=north west, height=36.09pt]
\addplot[nb] coordinates {(6.0,0.95)(6.8,0.82)(7.05,0.65)(7.5,0.74)(8.0,0.88)(9.0,0.96)(10.0,0.95)(10.6,0.91)};
\addplot[sb] coordinates {(0,1)(0.01,0)(0.02,1)(1,1)(2,1)(3,1)(3.8,1)(4.0,0.99)(4.5,0.98)(5.0,0.98)(5.2,0.96)(5.22,0.1)(5.24,0.96)(5.4,0.98)(5.6,0.96)(5.8,0.97)(6.0,0.94)(6.2,0.95)(6.4,0.92)(6.6,0.88)(6.8,0.82)(6.9,0.75)(7.0,0.68)(7.05,0.6)(7.1,0.7)(7.15,0.55)(7.2,0.72)(7.3,0.7)(7.4,0.75)(7.5,0.73)(7.6,0.78)(7.8,0.82)(8.0,0.88)(8.2,0.9)(8.4,0.92)(8.6,0.95)(8.7,0.88)(8.8,0.92)(8.9,0.98)(9.1,0.95)(9.3,0.98)(9.5,0.94)(9.7,0.97)(9.9,0.93)(10.1,0.96)(10.3,0.92)(10.5,0.94)(10.7,0.88)(10.8,0.92)(10.9,0.75)(10.95,0.88)(11.05,0.65)(11.1,0.9)(11.2,0.8)(11.3,0.6)(11.35,0.85)(11.45,0.93)(11.55,0.8)(11.6,0.93)(11.7,0.75)(11.75,0.95)(11.85,0.9)(12,0.92)};
\addplot[no] coordinates {(3.0,0.98)(4.0,0.93)(5.0,0.87)(5.4,0.83)(5.6,nan)(7.7,0.85)(8.0,0.91)(8.5,0.83)(8.78,0.77)(8.88,nan)(9.0,0.72)(9.5,0.56)(10.0,0.5)(10.4,0.62)(10.7,0.58)};
\addplot[so] coordinates {(0,1)(0.19,1)(0.2,0.4)(0.21,1)(2.7,1)(2.9,0.98)(3.1,0.99)(3.3,0.96)(3.5,0.98)(3.7,0.94)(3.9,0.96)(4.1,0.91)(4.3,0.94)(4.5,0.89)(4.7,0.92)(4.9,0.86)(5.1,0.89)(5.2,0.85)(5.25,0.88)(5.3,0.86)(5.4,0.82)(5.5,0.8)(5.6,0.75)(5.7,0.65)(5.8,0.55)(5.9,0.38)(6.0,0.22)(6.08,0.1)(6.15,0.05)(6.2,0.1)(6.3,0.18)(6.4,0.25)(6.5,0.3)(6.6,0.38)(6.7,0.45)(6.8,0.5)(6.9,0.55)(7.0,0.6)(7.1,0.65)(7.18,0.6)(7.2,0.1)(7.22,0.65)(7.3,0.7)(7.4,0.75)(7.5,0.78)(7.6,0.82)(7.7,0.85)(7.8,0.88)(7.9,0.9)(8.0,0.93)(8.1,0.88)(8.2,0.91)(8.3,0.85)(8.4,0.88)(8.5,0.82)(8.6,0.84)(8.7,0.78)(8.8,0.75)(8.83,0.4)(8.86,0.78)(8.9,0.72)(9.0,0.74)(9.1,0.66)(9.2,0.68)(9.3,0.6)(9.4,0.62)(9.5,0.54)(9.6,0.57)(9.7,0.5)(9.8,0.52)(9.9,0.48)(10.0,0.5)(10.1,0.55)(10.2,0.58)(10.3,0.6)(10.4,0.63)(10.5,0.6)(10.6,0.65)(10.7,0.58)(10.8,0.5)(10.9,0.4)(11.0,0.3)(11.05,0.2)(11.1,0.3)(11.2,0.1)(11.25,0.0)(11.3,0.05)(11.35,0.2)(11.4,0.1)(11.5,0.4)(11.55,0.3)(11.6,0.5)(11.65,0.2)(11.7,0.0)(11.75,0.1)(11.8,0.0)(11.85,0.4)(11.9,0.55)(12,0.7)};
\end{axis}
\node at (123.5pt,-476.1pt) {(c) FRF of Sensor 3+Z};

%% ---------------- (d) Sensor 4+Z ----------------
\begin{axis}[ymode=log, acc, yminorticks=false, at={(300.63pt,-247.71pt)}, anchor=north west, height=89.22pt, ymin=5.8e-3, ymax=2400]
\addplot[nb] coordinates {(9.5,21)(10.0,20)(10.4,24)(10.5,nan)(11.0,12)(11.8,10)};
\addplot[sb] coordinates {(0,0.01)(0.03,1)(0.06,20)(0.08,150)(0.1,2)(0.12,0.015)(0.15,0.5)(0.2,3)(0.22,50)(0.25,3)(0.3,1.6)(0.45,1.8)(0.6,2.5)(0.7,4)(0.8,15)(0.87,60)(0.93,560)(0.98,60)(1.05,20)(1.2,10)(1.35,9)(1.5,9)(1.57,12)(1.6,22)(1.63,10)(1.66,4.5)(1.72,6)(1.85,7.5)(2.0,9)(2.2,14)(2.35,22)(2.5,50)(2.6,120)(2.65,300)(2.7,100)(2.78,45)(2.9,28)(3.1,20)(3.3,16)(3.5,14)(3.7,14)(3.9,17)(4.05,25)(4.15,70)(4.2,25)(4.25,12)(4.3,2)(4.35,8)(4.4,25)(4.45,7)(4.5,1)(4.55,5)(4.65,18)(4.8,40)(5.0,90)(5.2,180)(5.35,300)(5.5,500)(5.55,650)(5.65,350)(5.8,250)(5.9,200)(6.0,160)(6.2,150)(6.4,145)(6.6,150)(6.8,160)(6.9,170)(6.95,160)(7.0,75)(7.05,80)(7.2,90)(7.4,110)(7.6,200)(7.8,400)(7.95,1100)(8.05,300)(8.15,80)(8.3,55)(8.4,35)(8.5,25)(8.6,15)(8.7,6)(8.75,0.16)(8.78,5)(8.85,30)(8.95,150)(9.05,70)(9.2,33)(9.35,25)(9.5,20)(9.6,24)(9.7,17)(9.8,22)(9.9,16)(10.0,22)(10.1,17)(10.2,23)(10.3,20)(10.4,26)(10.5,35)(10.65,65)(10.75,30)(10.82,12)(10.9,15)(11.0,10)(11.1,16)(11.2,8)(11.3,14)(11.4,7)(11.5,12)(11.6,5)(11.7,12)(11.8,8)(11.9,14)(12,9)};
\addplot[no] coordinates {(5.95,95)(6.5,52)(7.0,38)(7.45,47)(7.55,nan)(9.2,15)(9.5,9)(10.0,9)(10.3,14)(10.5,nan)(11.0,8)(11.6,5)};
\addplot[so] coordinates {(0,0.015)(0.03,1)(0.06,15)(0.08,65)(0.1,2)(0.13,0.5)(0.15,0.04)(0.18,1)(0.22,30)(0.25,3)(0.3,1.6)(0.45,1.8)(0.6,2.5)(0.7,4)(0.8,15)(0.87,60)(0.93,560)(0.98,60)(1.05,20)(1.2,10)(1.35,9)(1.5,9)(1.57,12)(1.6,22)(1.63,10)(1.66,4.5)(1.72,6)(1.85,7.5)(2.0,9)(2.2,14)(2.35,22)(2.5,50)(2.6,120)(2.65,300)(2.7,100)(2.78,45)(2.9,28)(3.1,20)(3.3,16)(3.5,14)(3.7,14)(3.9,17)(4.05,25)(4.15,70)(4.2,25)(4.25,12)(4.3,5)(4.35,10)(4.4,25)(4.45,7)(4.5,1.6)(4.55,5)(4.65,20)(4.8,45)(5.0,110)(5.2,250)(5.35,500)(5.48,900)(5.55,1500)(5.62,500)(5.7,250)(5.8,150)(5.9,110)(6.0,90)(6.1,80)(6.2,70)(6.3,65)(6.4,55)(6.5,50)(6.55,60)(6.6,45)(6.7,50)(6.8,42)(6.9,45)(7.0,33)(7.05,40)(7.2,40)(7.4,45)(7.5,50)(7.6,90)(7.8,300)(7.95,1100)(8.05,300)(8.15,70)(8.25,40)(8.35,30)(8.45,20)(8.55,12)(8.65,6)(8.72,3)(8.75,2.3)(8.8,6)(8.87,25)(8.95,90)(9.05,45)(9.15,25)(9.2,17)(9.25,12)(9.3,16)(9.35,9)(9.4,13)(9.45,8)(9.5,11)(9.55,7)(9.6,11)(9.65,7)(9.7,10)(9.75,6.5)(9.8,11)(9.85,7)(9.9,10)(9.95,7)(10.0,11)(10.05,7.5)(10.1,12)(10.15,8)(10.2,13)(10.3,15)(10.4,20)(10.55,40)(10.65,60)(10.72,25)(10.8,8)(10.85,4)(10.9,1.6)(10.95,8)(11.0,12)(11.05,6)(11.1,11)(11.15,5)(11.2,10)(11.25,4)(11.3,9)(11.35,5)(11.4,8)(11.45,4)(11.5,7)(11.55,3)(11.6,8)(11.65,4)(11.7,6)(11.75,2)(11.78,1)(11.82,5)(11.9,12)(12,33)};
\end{axis}

\begin{axis}[pha, at={(300.63pt,-348.45pt)}, anchor=north west]
\addplot[nb] coordinates {(9.3,-8)(10.0,-8)(10.5,-5)};
\addplot[sb] coordinates {(0,180)(0.01,-180)(0.04,180)(0.06,0)(0.1,10)(0.18,5)(0.2,-180)(0.21,-180)(0.22,10)(0.3,5)(0.5,2)(0.9,0)(0.93,-20)(0.95,-178)(1.3,-178)(1.55,-176)(1.58,-170)(1.75,-175)(1.78,180)(1.8,-180)(1.83,180)(1.86,-180)(1.9,180)(1.93,-180)(1.97,180)(2.0,-180)(2.05,180)(2.08,-180)(2.12,180)(2.15,-180)(2.2,180)(2.22,-180)(2.25,180)(2.28,-180)(2.3,175)(2.5,178)(2.7,175)(2.73,40)(2.8,30)(2.9,20)(2.95,30)(3.0,15)(3.3,12)(3.6,15)(3.9,18)(4.1,20)(4.2,0)(4.28,-70)(4.35,-95)(4.42,-30)(4.5,-50)(4.57,-100)(4.6,-60)(4.7,40)(4.9,55)(5.1,60)(5.3,50)(5.5,45)(5.6,30)(5.7,-20)(5.8,-80)(5.9,-100)(6.0,-110)(6.1,-115)(6.3,-125)(6.5,-140)(6.7,-160)(6.85,-175)(6.9,-180)(6.92,180)(6.97,150)(7.0,115)(7.2,112)(7.4,110)(7.6,105)(7.8,100)(7.9,60)(7.95,-20)(8.0,-40)(8.2,-35)(8.4,-30)(8.6,-35)(8.72,-40)(8.74,-180)(8.76,100)(8.85,95)(9.0,85)(9.1,50)(9.2,0)(9.3,-10)(9.4,0)(9.5,-15)(9.6,-5)(9.7,-20)(9.8,-5)(9.9,-15)(10.0,0)(10.1,-20)(10.2,-5)(10.3,-15)(10.4,5)(10.5,-10)(10.6,-30)(10.7,-70)(10.75,-110)(10.85,-60)(10.95,-80)(11.05,-100)(11.2,-90)(11.35,-120)(11.45,-130)(11.5,-160)(11.53,-180)(11.55,180)(11.58,100)(11.65,90)(11.75,70)(11.8,-180)(11.85,-40)(11.95,-60)(12,-70)};
\addplot[no] coordinates {(6.2,112)(7.0,112)(7.8,102)(7.9,nan)(8.0,-5)(8.65,-10)(8.7,nan)(9.3,20)(10.0,30)(10.5,28)};
\addplot[so] coordinates {(0,180)(0.01,-180)(0.04,180)(0.06,0)(0.1,-180)(0.12,180)(0.15,5)(0.2,-180)(0.22,180)(0.25,5)(0.5,2)(0.9,0)(0.93,-20)(0.95,-178)(1.3,-178)(1.5,-176)(1.53,180)(1.56,-180)(1.6,175)(1.62,-180)(1.68,170)(1.7,-180)(1.85,-175)(1.88,180)(1.9,-180)(2.1,-180)(2.12,180)(2.15,-180)(2.25,-178)(2.3,180)(2.33,-180)(2.4,180)(2.42,-180)(2.5,180)(2.52,-180)(2.55,180)(2.58,-180)(2.6,175)(2.7,178)(2.73,40)(2.8,35)(2.9,25)(2.95,45)(3.0,25)(3.3,22)(3.6,25)(3.9,28)(4.1,30)(4.2,10)(4.28,-60)(4.35,-90)(4.42,-20)(4.5,-40)(4.57,-80)(4.6,-50)(4.7,45)(4.9,65)(5.1,65)(5.3,55)(5.5,50)(5.6,35)(5.7,0)(5.8,-60)(5.9,-110)(6.0,-120)(6.05,-135)(6.12,-170)(6.15,-180)(6.16,180)(6.2,120)(6.4,105)(6.6,115)(6.8,108)(7.0,118)(7.2,110)(7.4,115)(7.6,105)(7.8,100)(7.9,60)(7.95,0)(8.0,-5)(8.1,5)(8.2,-15)(8.3,0)(8.4,-20)(8.5,-5)(8.6,-20)(8.7,-10)(8.73,-180)(8.74,180)(8.76,100)(8.85,105)(9.0,85)(9.1,60)(9.2,10)(9.3,20)(9.4,15)(9.5,30)(9.6,20)(9.7,35)(9.8,20)(9.9,40)(10.0,25)(10.1,40)(10.2,20)(10.3,45)(10.4,25)(10.5,30)(10.6,0)(10.7,-50)(10.75,-80)(10.85,-40)(10.95,-70)(11.05,-80)(11.2,-90)(11.35,-110)(11.45,-140)(11.55,-160)(11.58,180)(11.6,-180)(11.65,-150)(11.7,180)(11.72,-180)(11.8,-160)(11.85,-180)(11.9,-150)(11.95,-170)(12,-160)};
\end{axis}

\begin{axis}[coh, at={(300.63pt,-398.61pt)}, anchor=north west, height=36.09pt]
\addplot[nb] coordinates {(6.3,0.9)(6.9,0.66)(7.5,0.8)(8.0,0.93)(8.6,nan)(8.8,0.95)(10.0,0.95)(10.6,0.93)};
\addplot[sb] coordinates {(0,1)(0.01,0)(0.02,1)(1,1)(2,1)(3,1)(3.8,1)(4.0,0.99)(4.5,0.98)(5.0,0.96)(5.5,0.95)(6.0,0.93)(6.2,0.9)(6.3,0.92)(6.4,0.84)(6.5,0.86)(6.6,0.76)(6.7,0.78)(6.8,0.68)(6.9,0.66)(7.0,0.68)(7.1,0.7)(7.2,0.72)(7.3,0.75)(7.4,0.77)(7.5,0.8)(7.6,0.82)(7.7,0.85)(7.8,0.88)(7.9,0.9)(8.0,0.93)(8.2,0.95)(8.4,0.98)(8.6,0.95)(8.7,0.9)(8.73,0.0)(8.75,0.95)(8.9,0.97)(9.1,0.94)(9.3,0.97)(9.5,0.93)(9.7,0.96)(9.9,0.93)(10.1,0.96)(10.3,0.92)(10.5,0.95)(10.7,0.88)(10.8,0.9)(10.9,0.75)(10.95,0.65)(11.0,0.8)(11.1,0.88)(11.2,0.72)(11.3,0.8)(11.4,0.9)(11.5,0.88)(11.6,0.7)(11.65,0.65)(11.7,0.85)(11.8,0.92)(11.9,0.85)(12,0.88)};
\addplot[no] coordinates {(3.0,0.98)(4.0,0.94)(4.5,0.91)(4.55,nan)(4.6,0.9)(5.0,0.87)(5.6,0.8)(5.7,nan)(7.7,0.83)(8.0,0.92)(8.5,0.89)(8.68,0.85)(8.73,nan)(8.8,0.8)(9.0,0.72)(9.5,0.53)(10.0,0.44)(10.05,nan)(10.3,0.42)(10.6,0.48)(10.7,nan)(10.9,0.43)(11.5,0.5)};
\addplot[so] coordinates {(0,1)(0.19,1)(0.2,0.3)(0.21,1)(2.9,1)(3.1,0.98)(3.3,0.99)(3.5,0.96)(3.7,0.98)(3.9,0.94)(4.1,0.96)(4.3,0.91)(4.5,0.93)(4.55,0.65)(4.58,0.92)(4.7,0.88)(4.9,0.9)(5.1,0.85)(5.3,0.87)(5.5,0.82)(5.6,0.8)(5.7,0.7)(5.8,0.58)(5.9,0.45)(6.0,0.3)(6.08,0.15)(6.15,0.05)(6.22,0.1)(6.3,0.18)(6.4,0.25)(6.5,0.32)(6.6,0.4)(6.7,0.45)(6.8,0.5)(6.9,0.55)(7.0,0.6)(7.1,0.63)(7.2,0.67)(7.3,0.7)(7.4,0.73)(7.5,0.76)(7.6,0.8)(7.7,0.83)(7.8,0.87)(7.9,0.9)(8.0,0.93)(8.1,0.9)(8.2,0.95)(8.3,0.9)(8.4,0.93)(8.5,0.86)(8.6,0.9)(8.7,0.85)(8.73,0.0)(8.75,0.85)(8.8,0.8)(8.9,0.75)(9.0,0.72)(9.1,0.65)(9.2,0.68)(9.3,0.58)(9.4,0.6)(9.5,0.52)(9.6,0.55)(9.7,0.45)(9.8,0.5)(9.9,0.42)(10.0,0.45)(10.05,0.2)(10.1,0.1)(10.15,0.3)(10.2,0.45)(10.3,0.4)(10.4,0.5)(10.5,0.45)(10.6,0.5)(10.7,0.3)(10.75,0.15)(10.8,0.05)(10.85,0.3)(10.9,0.45)(11.0,0.42)(11.1,0.3)(11.2,0.4)(11.3,0.35)(11.4,0.5)(11.5,0.55)(11.6,0.4)(11.7,0.2)(11.75,0.05)(11.8,0.0)(11.85,0.3)(11.9,0.5)(12,0.6)};
\end{axis}
\node at (377.2pt,-476.1pt) {(d) FRF of Sensor 4+Z};

\end{tikzpicture}
\end{document}
